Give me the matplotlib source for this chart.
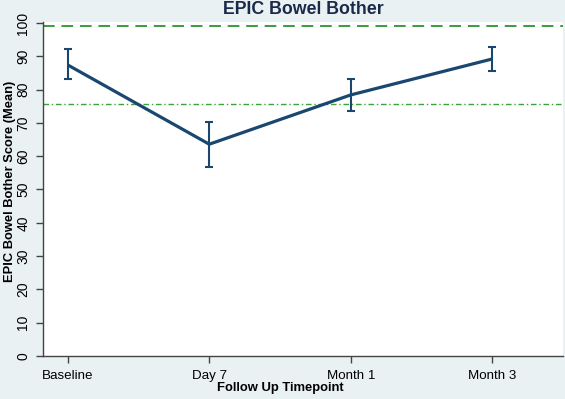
import numpy as np
import matplotlib
matplotlib.use('Agg')
import matplotlib.pyplot as plt

# values
timepoints = ['Baseline', 'Day 7', 'Month 1', 'Month 3']
means = [87.4, 63.6, 78.4, 89.2]
ci_low = [83.1, 56.8, 73.6, 85.7]
ci_high = [92.1, 70.3, 83.2, 92.9]
ref_upper = 99.2
ref_lower = 75.8

plt.rcParams['font.family'] = ['Liberation Sans', 'DejaVu Sans']

bg = '#eaf1f3'
navy = '#1a476f'
W, H = 565, 399

fig = plt.figure(figsize=(W / 100, H / 100), dpi=100, facecolor=bg)
ax = fig.add_axes([43 / W, 43 / H, 520 / W, 334 / H])
ax.set_facecolor('white')

x = np.arange(len(timepoints))
means = np.array(means)
yerr = [means - np.array(ci_low), np.array(ci_high) - means]

ax.axhline(ref_upper, color='#3d9a3d', lw=1.4, ls=(0, (6, 3.5)))
ax.axhline(ref_lower, color='#3aa23a', lw=1.0, ls=(0, (4, 2, 1, 2)))

ax.plot(x, means, color=navy, lw=2.3, solid_capstyle='butt')
ax.errorbar(x, means, yerr=yerr, fmt='none', ecolor=navy, elinewidth=1.5,
            capsize=3, capthick=1.5)

ax.set_xlim(-0.175, 3.5)
ax.set_ylim(0, 100.3)
ax.set_xticks(x)
ax.set_xticklabels(timepoints, fontsize=9.6)
ax.set_yticks(np.arange(0, 101, 10))
ax.set_yticklabels([str(v) for v in range(0, 101, 10)], rotation=90,
                   va='center', fontsize=10)

for s in ['top', 'right']:
    ax.spines[s].set_visible(False)
for s in ['left', 'bottom']:
    ax.spines[s].set_color('#444444')
    ax.spines[s].set_linewidth(1.0)
ax.tick_params(colors='#444444', length=5, width=1.0, labelcolor='black')
ax.tick_params(axis='y', pad=4)
ax.tick_params(axis='x', pad=5)

# axis titles and heading placed as in the reference
fig.text(280 / W, 1 - 388 / H, 'Follow Up Timepoint', ha='center',
         va='center', fontsize=9.4, fontweight='bold')
fig.text(10 / W, 1 - 181 / H, 'EPIC Bowel Bother Score (Mean)', ha='center',
         va='center', rotation=90, fontsize=9.3, fontweight='bold')
fig.text(303 / W, 1 - 10 / H, 'EPIC Bowel Bother', ha='center', va='center',
         fontsize=12.8, fontweight='bold', color='#1a2a4a')

fig.savefig('out.png', dpi=100, facecolor=bg)
